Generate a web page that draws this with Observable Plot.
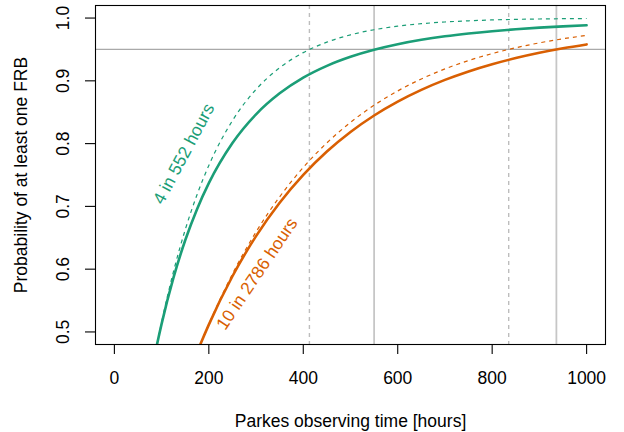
<!DOCTYPE html>
<html>
<head>
<meta charset="utf-8">
<script src="https://cdn.jsdelivr.net/npm/d3@7"></script>
<script src="https://cdn.jsdelivr.net/npm/@observablehq/plot@0.6"></script>
<style>
  html, body { margin: 0; padding: 0; background: #fff; }
</style>
</head>
<body>
<div id="chart"></div>
<script>
// Observing time grid (hours)
const hours = [50, 75, 100, 125, 150, 175, 200, 250, 300, 350, 400, 450, 500,
               550, 600, 650, 700, 750, 800, 850, 900, 950, 1000];

// 4 bursts in 552 hours: predictive (solid) and fixed-rate (dashed) probability
const greenSolid = [0.3124, 0.4232, 0.5129, 0.5860, 0.6460, 0.6956, 0.7370, 0.8009, 0.8467, 0.8801,
                    0.9051, 0.9239, 0.9383, 0.9495, 0.9583, 0.9653, 0.9709, 0.9754, 0.9791, 0.9822,
                    0.9847, 0.9868, 0.9885];
const greenDashed = [0.3039, 0.4193, 0.5155, 0.5958, 0.6628, 0.7186, 0.7653, 0.8366, 0.8863, 0.9208,
                     0.9449, 0.9616, 0.9733, 0.9814, 0.9871, 0.9910, 0.9937, 0.9956, 0.9970, 0.9979,
                     0.9985, 0.9990, 0.9993];

// 10 bursts in 2786 hours
const orangeSolid = [0.1680, 0.2402, 0.3056, 0.3648, 0.4186, 0.4673, 0.5117, 0.5887, 0.6527, 0.7058,
                     0.7502, 0.7874, 0.8185, 0.8448, 0.8669, 0.8856, 0.9015, 0.9150, 0.9265, 0.9363,
                     0.9447, 0.9519, 0.9580];
const orangeDashed = [0.1643, 0.2360, 0.3016, 0.3615, 0.4163, 0.4664, 0.5122, 0.5923, 0.6593, 0.7153,
                      0.7621, 0.8012, 0.8338, 0.8611, 0.8839, 0.9030, 0.9190, 0.9323, 0.9434, 0.9527,
                      0.9605, 0.9670, 0.9724];

// Reference levels
const threshold = 0.95;
const solidMarkers = [550, 936];   // hours where predictive curves reach 0.95
const dashedMarkers = [413, 835];  // hours where fixed-rate curves reach 0.95

// Axis ticks
const xTicks = [0, 200, 400, 600, 800, 1000];
const yTicks = [0.5, 0.6, 0.7, 0.8, 0.9, 1.0];

// Curve labels
const labels = [
  {text: "4 in 552 hours", hours: 147, p: 0.7835, angle: -62, group: "fast"},
  {text: "10 in 2786 hours", hours: 302, p: 0.5925, angle: -56, group: "slow"}
];

const groups = ["fast", "slow"];
const palette = ["#1B9E77", "#D95F02"];

const toRows = (values, group) => hours.map((h, i) => ({hours: h, p: values[i], group}));
const solidRows = [...toRows(greenSolid, "fast"), ...toRows(orangeSolid, "slow")];
const dashedRows = [...toRows(greenDashed, "fast"), ...toRows(orangeDashed, "slow")];

const font = "'Liberation Sans', Arial, Helvetica, sans-serif";
const fs = 17.5;

const chart = Plot.plot({
  width: 624,
  height: 432,
  marginLeft: 95,
  marginRight: 19,
  marginTop: 5,
  marginBottom: 88,
  style: {fontFamily: font, fontSize: fs + "px", background: "#fff", color: "#000"},
  x: {domain: [-40, 1040]},
  y: {domain: [0.48, 1.02]},
  color: {type: "ordinal", domain: groups, range: palette},
  marks: [
    Plot.ruleY([threshold], {stroke: "#a9a9a9", strokeWidth: 1.3}),
    Plot.ruleX(solidMarkers, {stroke: "#c6c6c6", strokeWidth: 1.8}),
    Plot.ruleX(dashedMarkers, {stroke: "#bdbdbd", strokeWidth: 1.4, strokeDasharray: "4,4"}),
    Plot.line(dashedRows, {x: "hours", y: "p", z: "group", stroke: "group",
      strokeWidth: 1.2, strokeDasharray: "4,4", strokeLinecap: "butt", curve: "monotone-x", clip: true}),
    Plot.line(solidRows, {x: "hours", y: "p", z: "group", stroke: "group",
      strokeWidth: 2.6, curve: "monotone-x", clip: true}),
    Plot.text(labels, {x: "hours", y: "p", text: "text", rotate: "angle", fill: "group",
      fontSize: fs, textAnchor: "middle", lineAnchor: "middle"}),
    Plot.frame({stroke: "#000", strokeWidth: 1.1}),
    Plot.axisX({ticks: xTicks, tickSize: 10, tickPadding: 17, fontSize: fs,
      tickFormat: d3.format("d"), label: null, strokeWidth: 1.1}),
    Plot.axisY({ticks: yTicks, tickSize: 10, tickPadding: 17, tickRotate: -90, fontSize: fs,
      tickFormat: d3.format(".1f"), label: null, strokeWidth: 1.1}),
    Plot.text(["Parkes observing time [hours]"], {frameAnchor: "bottom", dy: 82,
      textAnchor: "middle", lineAnchor: "bottom", fontSize: fs}),
    Plot.text(["Probability of at least one FRB"], {frameAnchor: "left", dx: -69, rotate: -90,
      textAnchor: "middle", lineAnchor: "bottom", fontSize: fs})
  ]
});

document.getElementById("chart").appendChild(chart);
</script>
</body>
</html>
